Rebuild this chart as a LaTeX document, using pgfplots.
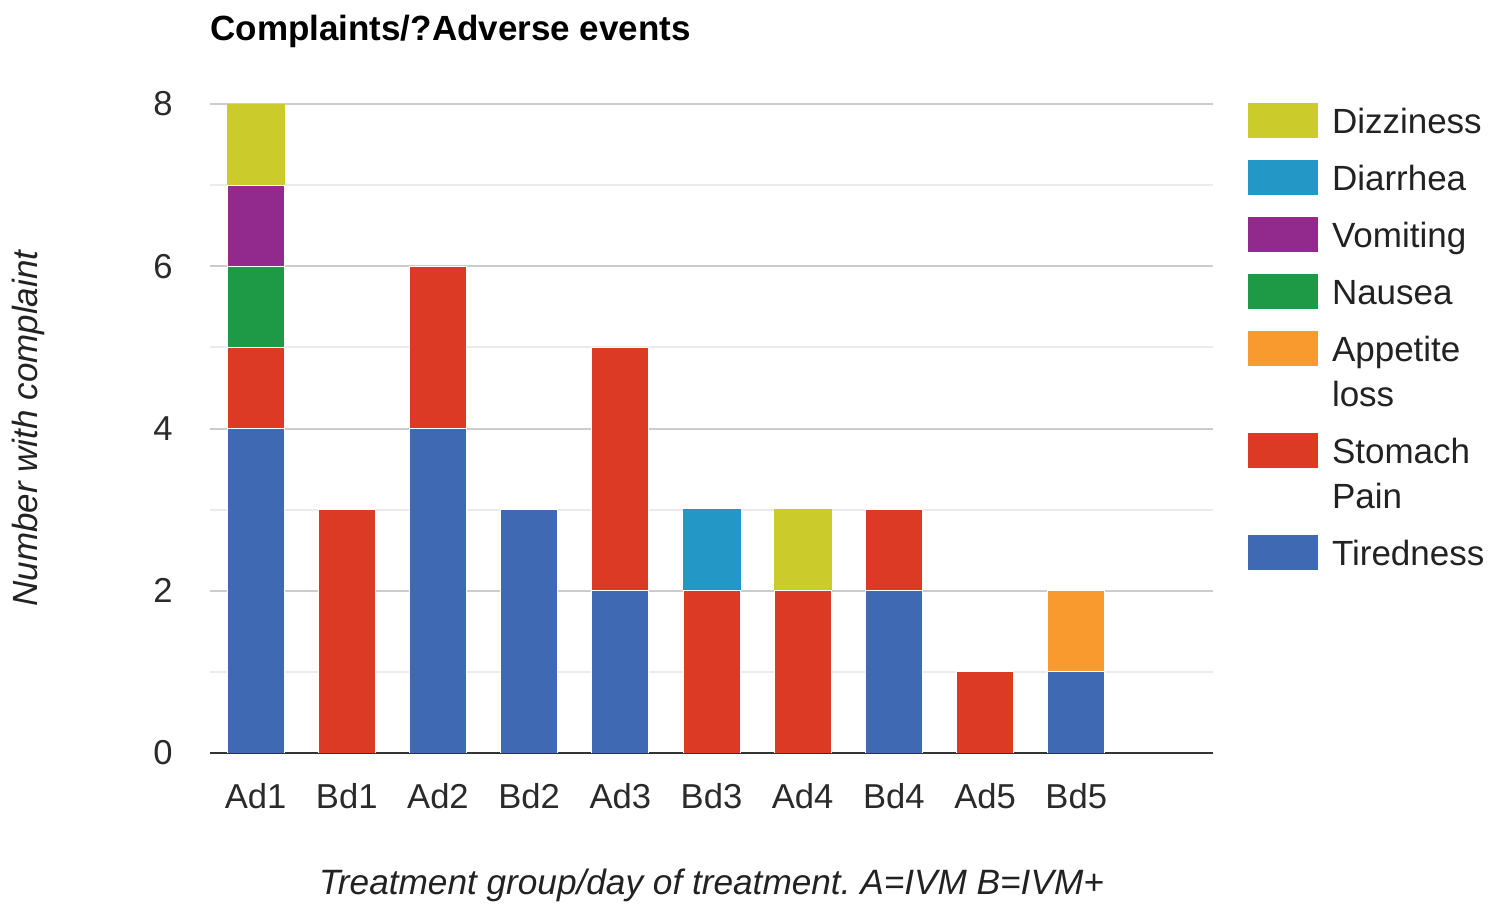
\documentclass[border=0pt]{standalone}
\usepackage{fontspec}
\setmainfont{Liberation Sans}
\usepackage{pgfplots}
\usepackage{pgfplotstable}
\pgfplotsset{compat=1.18}
\frenchspacing
\definecolor{ctired}{HTML}{3F69B3}
\definecolor{cstomach}{HTML}{DC3A24}
\definecolor{cappetite}{HTML}{F89A2D}
\definecolor{cnausea}{HTML}{1E9A47}
\definecolor{cvomit}{HTML}{922A8E}
\definecolor{cdiarr}{HTML}{2398C6}
\definecolor{cdizzy}{HTML}{CCCB2C}
\definecolor{gridmaj}{HTML}{CCCCCC}
\definecolor{gridmin}{HTML}{EBEBEB}
\definecolor{axiscol}{HTML}{333333}
\definecolor{ticktext}{HTML}{2A2A2A}
\definecolor{labeltext}{HTML}{222222}
\newcommand{\twoline}[2]{\vtop{\baselineskip=22.5bp\lineskiplimit=-\maxdimen\hbox{\rule{0pt}{20.5bp}#1}\hbox{\rule[-8bp]{0pt}{8bp}#2}}}
\pgfplotstableread{
x tired stomach appetite nausea vomit diarr dizzy
0 4 1 0 1 1 0 1
1 0 3 0 0 0 0 0
2 4 2 0 0 0 0 0
3 3 0 0 0 0 0 0
4 2 3 0 0 0 0 0
5 0 2 0 0 0 1 0
6 0 2 0 0 0 0 1
7 2 1 0 0 0 0 0
8 0 1 0 0 0 0 0
9 1 0 1 0 0 0 0
}\datatable
\pgfplotsset{
  myleg/.style={legend image code/.code={\fill[##1,draw=none] (0bp,-2.5bp) rectangle (35bp,15bp);}}
}
\begin{document}
\begin{tikzpicture}
\useasboundingbox (0,0) rectangle (750bp,457bp);
\begin{axis}[
  at={(105bp,80.5bp)}, anchor=south west,
  scale only axis, width=501.5bp, height=324.5bp,
  xmin=-0.5, xmax=10.5, ymin=0, ymax=8,
  ybar stacked, bar width=28.5bp,
  xtick={0,...,9},
  xticklabels={Ad1,Bd1,Ad2,Bd2,Ad3,Bd3,Ad4,Bd4,Ad5,Bd5},
  ytick={0,2,4,6,8}, minor ytick={1,3,5,7},
  ymajorgrids, yminorgrids,
  major grid style={draw=gridmaj, line width=1bp},
  minor grid style={draw=gridmin, line width=1bp},
  axis x line*=bottom, axis y line*=left,
  y axis line style={draw=none},
  x axis line style={draw=axiscol, line width=1bp, -},
  major tick length=0pt, minor tick length=0pt,
  tick style={draw=none},
  /pgf/number format/assume math mode=true,
  ticklabel style={font=\fontsize{17.3bp}{20bp}\selectfont, text=ticktext, inner sep=0pt},
  yticklabel style={xshift=-18.5bp},
  xticklabel style={yshift=-15bp},
  title={Complaints/?Adverse events},
  title style={at={(axis description cs:0,1.0801)}, anchor=base west, inner sep=0pt,
    font=\bfseries\fontsize{17.5bp}{20bp}\selectfont, text=black},
  xlabel={Treatment group/day of treatment. A=IVM B=IVM+},
  xlabel style={at={(axis description cs:0.5,-0.2188)}, anchor=base, inner sep=0pt,
    font=\itshape\fontsize{17.6bp}{20bp}\selectfont, text=labeltext},
  ylabel={Number with complaint},
  ylabel style={at={(axis description cs:-0.1715,0.5)}, anchor=base, inner sep=0pt,
    font=\itshape\fontsize{17.5bp}{20bp}\selectfont, text=labeltext},
  reverse legend,
  legend cell align=left,
  legend style={at={(axis description cs:1.0349,1.0185)}, anchor=north west,
    draw=none, fill=none, inner sep=0pt, outer sep=0pt, row sep=0pt, column sep=7bp,
    cells={anchor=base west},
    nodes={inner sep=0pt, outer sep=0pt, text height=20.5bp, text depth=8bp, anchor=base west,
      font=\fontsize{17.5bp}{22.5bp}\selectfont, text=labeltext}},
]
\addplot[fill=ctired, draw=white, line width=0.5bp, myleg] table[x=x,y=tired] {\datatable};
\addlegendentry{Tiredness}
\addplot[fill=cstomach, draw=white, line width=0.5bp, myleg] table[x=x,y=stomach] {\datatable};
\addlegendentry[text depth=30.5bp]{\twoline{Stomach}{Pain}}
\addplot[fill=cappetite, draw=white, line width=0.5bp, myleg] table[x=x,y=appetite] {\datatable};
\addlegendentry[text depth=30.5bp]{\twoline{Appetite}{loss}}
\addplot[fill=cnausea, draw=white, line width=0.5bp, myleg] table[x=x,y=nausea] {\datatable};
\addlegendentry{Nausea}
\addplot[fill=cvomit, draw=white, line width=0.5bp, myleg] table[x=x,y=vomit] {\datatable};
\addlegendentry{Vomiting}
\addplot[fill=cdiarr, draw=cdiarr, line width=0.5bp, myleg] table[x=x,y=diarr] {\datatable};
\addlegendentry{Diarrhea}
\addplot[fill=cdizzy, draw=cdizzy, line width=0.5bp, myleg] table[x=x,y=dizzy] {\datatable};
\addlegendentry{Dizziness}
\end{axis}
\end{tikzpicture}
\end{document}
